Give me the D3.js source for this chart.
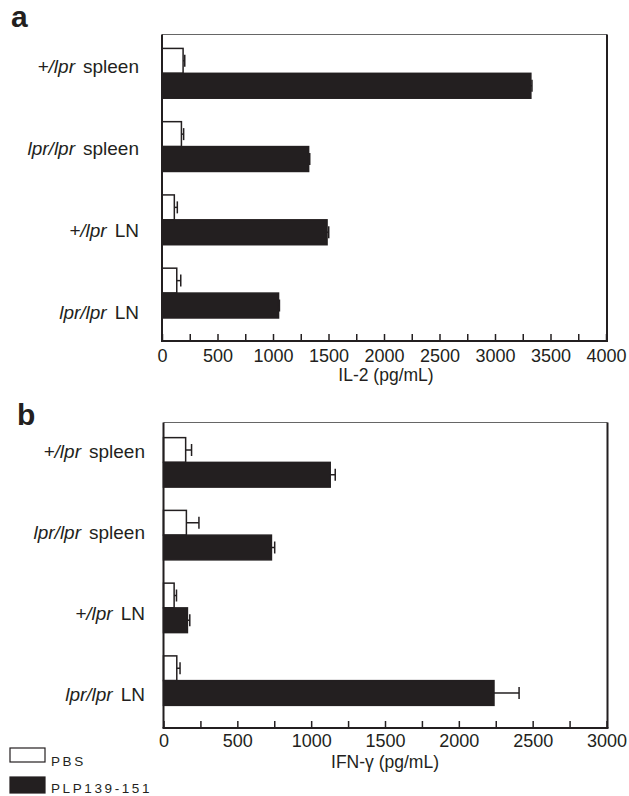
<!DOCTYPE html>
<html>
<head>
<meta charset="utf-8">
<script src="https://cdn.jsdelivr.net/npm/d3@7"></script>
<style>
  body { margin: 0; background: #fff; }
  text { font-family: "Liberation Sans", Arial, Helvetica, sans-serif; fill: #231f20; }
</style>
</head>
<body>
<svg></svg>
<script>
const width = 629;
const height = 796;
const svg = d3.select("svg").attr("width", width).attr("height", height);

const ink = "#231f20";

// data
const genotypes = ["+/lpr", "lpr/lpr", "+/lpr", "lpr/lpr"];
const tissues = ["spleen", "spleen", "LN", "LN"];
const categories = genotypes.map((g, i) => g + " " + tissues[i]);

const il2Pbs = [190, 175, 111, 133];
const il2PbsErr = [15, 20, 27, 36];
const il2Plp = [3323, 1321, 1487, 1050];
const il2PlpErr = [10, 10, 15, 8];

const ifnPbs = [150, 155, 72, 90];
const ifnPbsErr = [40, 85, 16, 22];
const ifnPlp = [1129, 731, 162, 2238];
const ifnPlpErr = [34, 22, 16, 170];

const il2Ticks = d3.range(0, 4001, 250);
const ifnTicks = d3.range(0, 3001, 250);

const drawPanel = (p) => {
  const g = svg.append("g");

  const x = d3.scaleLinear().domain([0, p.max]).range([p.left, p.right]);
  const y = d3.scaleBand().domain(categories).range(p.band).padding(0);
  const labelY = d3.scalePoint().domain(categories).range(p.labelRange);
  const barH = y.bandwidth() * 0.34;

  // bars: PBS on top (open), PLP below (filled)
  const series = [
    { vals: p.pbs, errs: p.pbsErr, fill: "#fff", off: -barH },
    { vals: p.plp, errs: p.plpErr, fill: ink, off: 0 },
  ];

  series.forEach((s) => {
    const cy = (d, i) => y(categories[i]) + y.bandwidth() / 2 + s.off;

    g.append("g")
      .selectAll("rect")
      .data(s.vals)
      .enter()
      .append("rect")
      .attr("x", x(0))
      .attr("y", (d, i) => cy(d, i))
      .attr("width", (d) => x(d) - x(0))
      .attr("height", barH)
      .attr("fill", s.fill)
      .attr("stroke", ink)
      .attr("stroke-width", 1.5);

    // error bars
    const eb = g.append("g")
      .selectAll("g")
      .data(s.vals)
      .enter()
      .append("g")
      .attr("stroke", ink)
      .attr("stroke-width", 1.5);

    eb.append("line")
      .attr("x1", (d) => x(d))
      .attr("x2", (d, i) => x(d + s.errs[i]))
      .attr("y1", (d, i) => cy(d, i) + barH / 2)
      .attr("y2", (d, i) => cy(d, i) + barH / 2);

    eb.append("line")
      .attr("x1", (d, i) => x(d + s.errs[i]))
      .attr("x2", (d, i) => x(d + s.errs[i]))
      .attr("y1", (d, i) => cy(d, i) + barH / 2 - 6)
      .attr("y2", (d, i) => cy(d, i) + barH / 2 + 6);
  });

  // frame
  g.append("line")
    .attr("x1", p.left).attr("x2", p.frameRight)
    .attr("y1", p.top).attr("y2", p.top)
    .attr("stroke", "#666").attr("stroke-width", 1.2);
  g.append("line")
    .attr("x1", p.frameRight).attr("x2", p.frameRight)
    .attr("y1", p.top).attr("y2", p.bottom)
    .attr("stroke", ink).attr("stroke-width", 2);
  g.append("line")
    .attr("x1", p.left).attr("x2", p.left)
    .attr("y1", p.top).attr("y2", p.bottom)
    .attr("stroke", ink).attr("stroke-width", 2);

  // x axis with inward ticks
  const axis = d3.axisBottom(x)
    .tickValues(p.ticks)
    .tickSize(-7)
    .tickPadding(0)
    .tickFormat((d) => (d % 500 === 0 ? d : ""));

  const ax = g.append("g")
    .attr("transform", `translate(0,${p.bottom})`)
    .call(axis);
  ax.select(".domain").remove();
  ax.selectAll(".tick line").attr("stroke", ink).attr("stroke-width", 1.5);
  ax.selectAll(".tick text")
    .attr("dy", null)
    .attr("y", p.tickBase)
    .attr("font-size", 18)
    .attr("fill", ink)
    .attr("font-family", "Liberation Sans, Arial, sans-serif");

  g.append("line")
    .attr("x1", p.left - 1).attr("x2", p.frameRight + 1)
    .attr("y1", p.bottom).attr("y2", p.bottom)
    .attr("stroke", ink).attr("stroke-width", 2);

  // axis title
  g.append("text")
    .attr("x", p.titleX)
    .attr("y", p.bottom + p.titleBase)
    .attr("text-anchor", "middle")
    .attr("font-size", 17.5)
    .text(p.title);

  // category labels
  const lab = g.append("g")
    .selectAll("text")
    .data(categories)
    .enter()
    .append("text")
    .attr("x", p.labelX)
    .attr("y", (d) => labelY(d))
    .attr("text-anchor", "end")
    .attr("font-size", 19);
  lab.append("tspan")
    .attr("font-style", "italic")
    .text((d, i) => genotypes[i]);
  lab.append("tspan")
    .attr("dx", 8)
    .text((d, i) => tissues[i]);

  // panel letter
  g.append("text")
    .attr("x", p.letterX)
    .attr("y", p.letterY)
    .attr("font-size", 30)
    .attr("font-weight", "bold")
    .text(p.letter);
};

drawPanel({
  letter: "a", letterX: 11, letterY: 27,
  max: 4000, left: 162, right: 606, frameRight: 607,
  top: 34.5, bottom: 341,
  band: [36.7, 329.7], labelRange: [73, 319], labelX: 139,
  pbs: il2Pbs, pbsErr: il2PbsErr, plp: il2Plp, plpErr: il2PlpErr,
  ticks: il2Ticks, tickBase: 20.5, title: "IL-2 (pg/mL)", titleX: 386, titleBase: 40,
});

drawPanel({
  letter: "b", letterX: 17, letterY: 425,
  max: 3000, left: 163.5, right: 606.5, frameRight: 607.5,
  top: 422.5, bottom: 728,
  band: [426, 717], labelRange: [458, 701], labelX: 145,
  pbs: ifnPbs, pbsErr: ifnPbsErr, plp: ifnPlp, plpErr: ifnPlpErr,
  ticks: ifnTicks, tickBase: 18.5, title: "IFN-\u03b3 (pg/mL)", titleX: 385, titleBase: 40,
});

// legend
const legendItems = ["PBS", "PLP139-151"];
const legendFill = ["#fff", ink];
const legend = svg.append("g")
  .selectAll("g")
  .data(legendItems)
  .enter()
  .append("g")
  .attr("transform", (d, i) => `translate(10,${748 + i * 29})`);

legend.append("rect")
  .attr("width", 35)
  .attr("height", (d, i) => (i === 0 ? 14 : 16))
  .attr("fill", (d, i) => legendFill[i])
  .attr("stroke", ink)
  .attr("stroke-width", 1.2);

legend.append("text")
  .attr("x", 41)
  .attr("y", (d, i) => (i === 0 ? 18 : 16))
  .attr("font-size", 13.5)
  .attr("letter-spacing", 2.6)
  .text((d) => d);
</script>
</body>
</html>
